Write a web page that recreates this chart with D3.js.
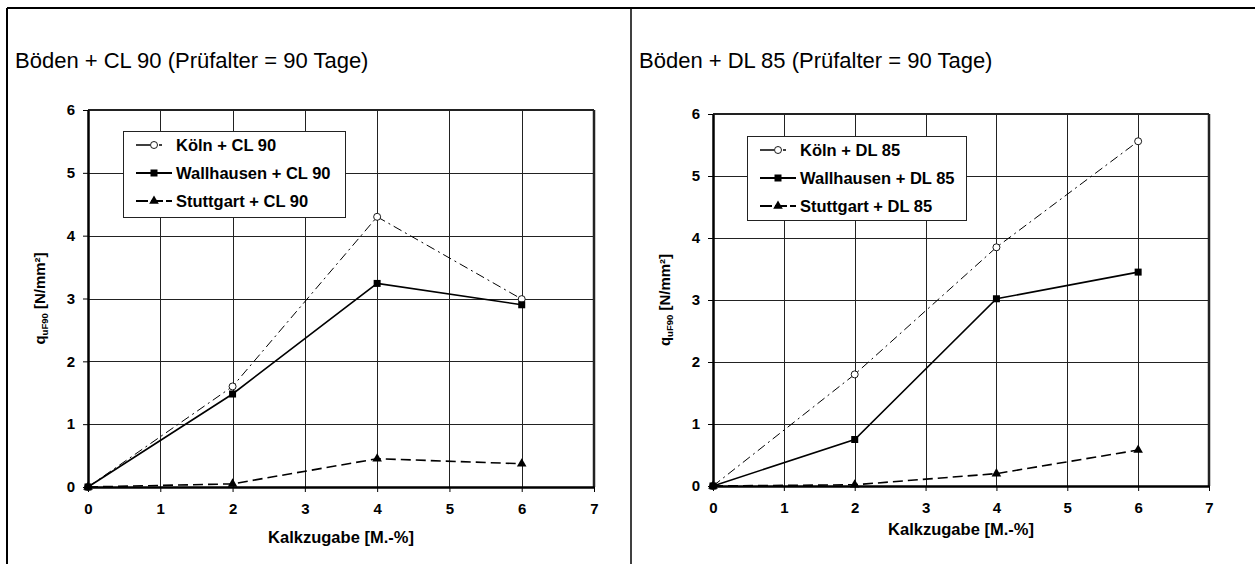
<!DOCTYPE html>
<html lang="de">
<head>
<meta charset="UTF-8">
<title>Böden + Kalk (Prüfalter = 90 Tage)</title>
<script src="https://d3js.org/d3.v7.min.js"></script>
<style>
  body { margin: 0; background: #fff; font-family: Arial, "Liberation Sans", sans-serif; }
  .tick text { font-size: 15px; font-weight: bold; fill: #000; }
  .grid line { stroke: #222; stroke-width: 1; shape-rendering: crispEdges; }
  .legend text { font-size: 16.5px; font-weight: bold; }
</style>
</head>
<body>
<div id="chart"></div>
<script>
// x-Werte (Kalkzugabe in M.-%)
const kalk = [0, 2, 4, 6];
const xTicks = [0, 1, 2, 3, 4, 5, 6, 7];
const yTicks = [0, 1, 2, 3, 4, 5, 6];

// linkes Diagramm: CL 90
const titleCL = "Böden + CL 90 (Prüfalter = 90 Tage)";
const namesCL = ["Köln + CL 90", "Wallhausen + CL 90", "Stuttgart + CL 90"];
const koelnCL = [0, 1.6, 4.3, 2.99];
const wallCL = [0, 1.48, 3.24, 2.9];
const stuttCL = [0, 0.05, 0.45, 0.37];

// rechtes Diagramm: DL 85
const titleDL = "Böden + DL 85 (Prüfalter = 90 Tage)";
const namesDL = ["Köln + DL 85", "Wallhausen + DL 85", "Stuttgart + DL 85"];
const koelnDL = [0, 1.8, 3.85, 5.56];
const wallDL = [0, 0.75, 3.02, 3.45];
const stuttDL = [0, 0.02, 0.2, 0.58];

const W = 1255, H = 564;
const svg = d3.select("#chart").append("svg")
    .attr("width", W).attr("height", H);

// Rahmen der beiden Felder
svg.append("line").attr("x1", 7).attr("x2", W).attr("y1", 8).attr("y2", 8)
    .attr("stroke", "#000").attr("stroke-width", 2);
svg.append("line").attr("x1", 7).attr("x2", 7).attr("y1", 8).attr("y2", H)
    .attr("stroke", "#000").attr("stroke-width", 2);
svg.append("line").attr("x1", 631).attr("x2", 631).attr("y1", 8).attr("y2", H)
    .attr("stroke", "#000").attr("stroke-width", 1.5);

// Linienstile je Boden
const styles = [
    { dash: "9,4,2,4", width: 1, marker: "circle" },
    { dash: null, width: 1.6, marker: "square" },
    { dash: "10,5", width: 1.6, marker: "triangle" }
];

function drawPanel(p) {
    const x = d3.scaleLinear().domain([0, 7]).range([p.left, p.right]);
    const y = d3.scaleLinear().domain([0, 6]).range([p.bottom, p.top]);
    const g = svg.append("g");

    g.append("text").attr("x", p.titleX).attr("y", 68)
        .attr("font-size", 22).text(p.title);

    // Gitter
    const grid = g.append("g").attr("class", "grid");
    grid.selectAll("line.v").data(xTicks.slice(1, -1)).join("line")
        .attr("class", "v")
        .attr("x1", d => Math.round(x(d)) + 0.5).attr("x2", d => Math.round(x(d)) + 0.5)
        .attr("y1", p.top).attr("y2", p.bottom);
    grid.selectAll("line.h").data(yTicks.slice(1, -1)).join("line")
        .attr("class", "h")
        .attr("y1", d => Math.round(y(d)) + 0.5).attr("y2", d => Math.round(y(d)) + 0.5)
        .attr("x1", p.left).attr("x2", p.right);

    // Rahmen oben / rechts
    g.append("line").attr("x1", p.left).attr("x2", p.right).attr("y1", p.top).attr("y2", p.top)
        .attr("stroke", "#222").attr("stroke-width", 2);
    g.append("line").attr("x1", p.right).attr("x2", p.right).attr("y1", p.top).attr("y2", p.bottom)
        .attr("stroke", "#222").attr("stroke-width", 2.5);

    // Achsen
    const xAxis = g.append("g").attr("transform", `translate(0,${p.bottom})`)
        .call(d3.axisBottom(x).tickValues(xTicks).tickFormat(d3.format("d"))
            .tickSizeInner(5).tickSizeOuter(0).tickPadding(11));
    const yAxis = g.append("g").attr("transform", `translate(${p.left},0)`)
        .call(d3.axisLeft(y).tickValues(yTicks).tickFormat(d3.format("d"))
            .tickSizeInner(5).tickSizeOuter(0).tickPadding(8));
    xAxis.select(".domain").attr("stroke-width", 2.5);
    yAxis.select(".domain").attr("stroke-width", 2.5);

    g.append("text").attr("x", (p.left + p.right) / 2).attr("y", p.xTitleY)
        .attr("text-anchor", "middle").attr("font-size", 16.5).attr("font-weight", "bold")
        .text("Kalkzugabe [M.-%]");

    const yt = g.append("text")
        .attr("transform", `translate(${p.left - 43},${(p.top + p.bottom) / 2}) rotate(-90)`)
        .attr("text-anchor", "middle").attr("font-size", 15).attr("font-weight", "bold");
    yt.append("tspan").text("q");
    yt.append("tspan").attr("font-size", 9.5).attr("dy", 3).text("uF90");
    yt.append("tspan").attr("dy", -3).text(" [N/mm²]");

    // Datenreihen
    const line = d3.line().x((d, i) => x(kalk[i])).y(d => y(d));
    p.series.forEach((vals, k) => {
        const s = styles[k];
        g.append("path").datum(vals).attr("d", line)
            .attr("fill", "none").attr("stroke", "#000")
            .attr("stroke-width", s.width).attr("stroke-dasharray", s.dash);
        drawMarkers(g, vals.map((v, i) => [x(kalk[i]), y(v)]), s.marker);
    });

    // Legende
    const lg = g.append("g").attr("class", "legend");
    lg.append("rect").attr("x", p.leg[0] + 0.5).attr("y", p.leg[1] + 0.5)
        .attr("width", p.leg[2]).attr("height", p.leg[3])
        .attr("fill", "#fff").attr("stroke", "#222").attr("stroke-width", 1);
    p.names.forEach((name, k) => {
        const s = styles[k];
        const ly = p.leg[1] + 14 + k * 28;
        const lx = p.leg[0] + 13;
        lg.append("line").attr("x1", lx).attr("x2", lx + 36).attr("y1", ly).attr("y2", ly)
            .attr("stroke", "#000").attr("stroke-width", s.width + 0.6)
            .attr("stroke-dasharray", s.dash ? (k === 0 ? "14,3,2,4,3" : "12,3") : null);
        drawMarkers(lg, [[lx + 18, ly]], s.marker);
        lg.append("text").attr("x", lx + 40).attr("y", ly + 6).text(name);
    });
}

function drawMarkers(g, pts, type) {
    if (type === "circle") {
        g.selectAll(null).data(pts).join("circle")
            .attr("cx", d => d[0]).attr("cy", d => d[1]).attr("r", 3.5)
            .attr("fill", "#fff").attr("stroke", "#000").attr("stroke-width", 0.9);
    } else if (type === "square") {
        g.selectAll(null).data(pts).join("rect")
            .attr("x", d => d[0] - 3.5).attr("y", d => d[1] - 3.5)
            .attr("width", 7).attr("height", 7).attr("fill", "#000");
    } else {
        g.selectAll(null).data(pts).join("path")
            .attr("transform", d => `translate(${d[0]},${d[1]})`)
            .attr("d", d3.symbol(d3.symbolTriangle, 40)).attr("fill", "#000");
    }
}

drawPanel({
    title: titleCL, titleX: 15, names: namesCL,
    series: [koelnCL, wallCL, stuttCL],
    left: 88, right: 594, top: 110, bottom: 487, xTitleY: 543,
    leg: [123, 131, 222, 86]
});
drawPanel({
    title: titleDL, titleX: 639, names: namesDL,
    series: [koelnDL, wallDL, stuttDL],
    left: 713, right: 1209, top: 114, bottom: 486, xTitleY: 535,
    leg: [747, 136, 219, 84]
});
</script>
</body>
</html>
